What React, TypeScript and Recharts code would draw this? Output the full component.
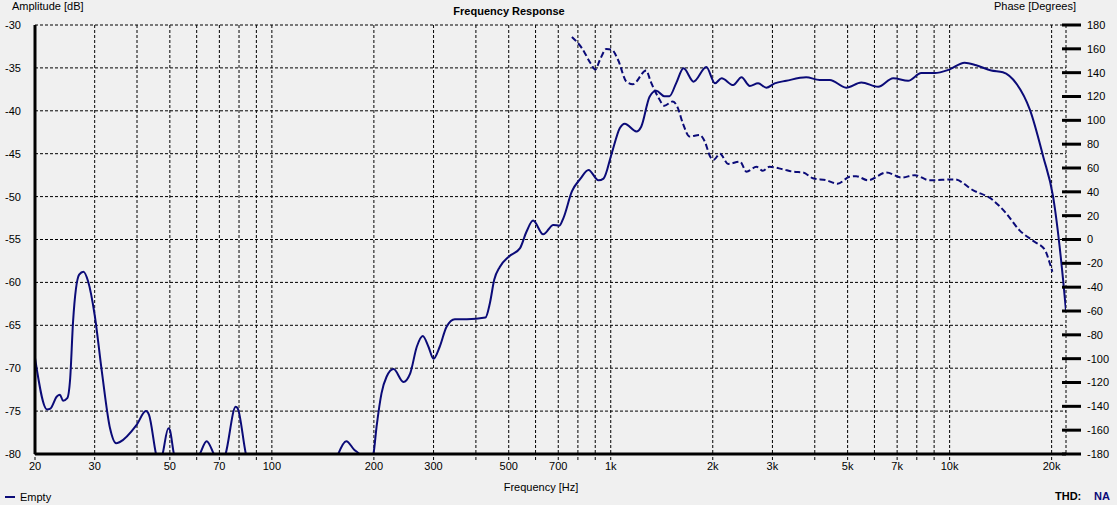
import React from "react";
import { LineChart, Line, XAxis, YAxis, CartesianGrid } from "recharts";

// amplitude (solid), frequency in Hz / level in dB
const ampFreq = [
  20, 21.7, 22.2, 23.2, 23.7, 24.2, 24.9, 25.4, 25.9, 27, 27.8, 28.7, 30, 31.5, 33.3, 34.7, 35.6,
  39.9, 42.5, 43.4, 45.5, 46.5, 47.6, 49.5, 50, 51.4, 56, 61.3, 64.2, 67.4, 70, 73, 78.2, 79.3,
  83.8, 88, 120, 150, 157, 165.8, 175, 181, 190, 199.3, 203.7, 210.7, 218, 228.6, 244.4, 256,
  267.7, 278.8, 289.8, 300, 312.8, 327.5, 346.8, 376.4, 426.8, 440, 453, 470.5, 500, 540, 564,
  590, 632, 677, 705, 725, 768, 814, 860, 920, 952, 1006, 1064, 1100, 1190, 1230, 1302, 1362,
  1440, 1490, 1559, 1640, 1756, 1914, 2030, 2124, 2298, 2432, 2572, 2721, 2878, 3046, 3296,
  3772, 4136, 4430, 4952, 5490, 6154, 6812, 7542, 8250, 9030, 9962, 11070, 11980, 13270, 14360,
  15720, 17260, 18890, 20200, 21620, 22050,
];
const ampDb = [
  -68.8, -74.8, -74.7, -73.3, -73.1, -73.8, -73.5, -71.2, -64.6, -59.1, -58.75, -59.9, -63.8,
  -70.4, -77, -78.75, -78.6, -76.6, -75, -75.45, -80, -81.5, -80, -77, -77.2, -80, -83, -80,
  -78.5, -80, -81.5, -80, -74.5, -74.7, -80, -83, -87, -82.5, -80, -78.5, -79.5, -80, -81.5, -80,
  -76.8, -72.9, -71, -70.1, -71.6, -70.6, -67.5, -66.25, -67.5, -68.9, -67.5, -65.2, -64.3,
  -64.3, -64.1, -62.4, -59.7, -58.2, -57, -56, -54.1, -52.8, -54.4, -53.3, -53.4, -52.5, -49.4,
  -47.9, -46.9, -48.1, -47.9, -45, -42, -41.5, -42.4, -41.85, -38.35, -37.65, -38.3, -38.3,
  -36.8, -35.05, -36.6, -34.9, -36.8, -36.2, -37, -36.1, -37.1, -36.8, -37.3, -36.8, -36.5,
  -36.1, -36.4, -36.4, -37.3, -36.7, -37.2, -36.2, -36.5, -35.6, -35.6, -35.2, -34.4, -34.7,
  -35.3, -35.5, -36.8, -39.9, -45.35, -50, -59.7, -63.3,
];

// phase (dashed), degrees
const phaseFreq = [
  768, 822, 872, 900, 928, 970, 1006, 1052, 1112, 1162, 1272, 1312, 1378, 1440, 1524, 1577,
  1632, 1710, 1830, 1894, 1966, 2012, 2100, 2220, 2408, 2514, 2692, 2810, 2940, 3214, 3452,
  3698, 3950, 4330, 4672, 5066, 5300, 5742, 6512, 7212, 7892, 8720, 10350, 11710, 13410, 14680,
  16060, 17800, 19100, 19750, 20100,
];
const phaseDeg = [
  170, 160.6, 147.9, 142.6, 150.4, 159.9, 159.4, 150.4, 132.5, 130.3, 141.8, 132.5, 119.9,
  112.3, 115.9, 110.5, 97.5, 86.4, 87.8, 82.3, 69.5, 66.9, 72, 63.4, 65.3, 56.9, 61, 57.6, 61,
  59, 56.9, 56.2, 51.4, 49.7, 46.8, 52.6, 53.1, 49.7, 56.2, 52, 54, 49.7, 50.4, 41.5, 33.1, 22,
  7.9, -1.9, -8.6, -19.9, -27,
];

const freqTicks = [
  20, 30, 40, 50, 60, 70, 80, 90, 100, 200, 300, 400, 500, 600, 700, 800, 900,
  1000, 2000, 3000, 4000, 5000, 6000, 7000, 8000, 9000, 10000, 20000,
];
const freqLabels: Record<number, string> = {
  20: "20", 30: "30", 50: "50", 70: "70", 100: "100", 200: "200", 300: "300", 500: "500",
  700: "700", 1000: "1k", 2000: "2k", 3000: "3k", 5000: "5k", 7000: "7k", 10000: "10k",
  20000: "20k",
};
const dbTicks = [-30, -35, -40, -45, -50, -55, -60, -65, -70, -75, -80];
const degTicks = [180, 160, 140, 120, 100, 80, 60, 40, 20, 0, -20, -40, -60, -80, -100, -120, -140, -160, -180];

const ampData = ampFreq.map((f, i) => ({ f, v: ampDb[i] }));
const phaseData = phaseFreq.map((f, i) => ({ f, v: phaseDeg[i] }));

const FONT = '"Liberation Sans", Arial, sans-serif';
const NAVY = "#0b0b78";

const PhaseTick = ({ x, y, payload }: any) => (
  <g>
    <line x1={x - 4} x2={x + 15} y1={y} y2={y} stroke="#000" strokeWidth={3} />
    <text x={x + 21} y={y} dy="0.36em" fontSize={11} fontFamily={FONT} fill="#000" textAnchor="start">
      {payload.value}
    </text>
  </g>
);

const label = (top: number, left: number, extra: React.CSSProperties = {}): React.CSSProperties => ({
  position: "absolute",
  top,
  left,
  fontSize: 11,
  lineHeight: "13px",
  fontFamily: FONT,
  color: "#000",
  whiteSpace: "nowrap",
  ...extra,
});

export default function App() {
  return (
    <div style={{ position: "absolute", left: 0, top: 0, width: 1117, height: 505, background: "#f0f0f0", overflow: "hidden" }}>
      <LineChart width={1117} height={505} margin={{ top: 25, right: 0, bottom: 0, left: 0 }}>
        <CartesianGrid yAxisId="amp" stroke="#000" strokeDasharray="3 2" strokeWidth={1} />
        <XAxis
          dataKey="f"
          type="number"
          scale="log"
          domain={[20, 22050]}
          allowDataOverflow
          ticks={freqTicks}
          interval={0}
          height={51}
          tickFormatter={(v: number) => freqLabels[v] ?? ""}
          tick={{ fontSize: 11, fontFamily: FONT, fill: "#000" }}
          tickSize={6}
          tickMargin={2}
          tickLine={{ stroke: "#000", strokeDasharray: "3 2" }}
          axisLine={{ stroke: "#000", strokeWidth: 3 }}
        />
        <YAxis
          yAxisId="amp"
          orientation="left"
          width={35}
          domain={[-80, -30]}
          allowDataOverflow
          ticks={dbTicks}
          interval={0}
          tickLine={false}
          tickSize={0}
          tickMargin={14}
          tick={{ fontSize: 11, fontFamily: FONT, fill: "#000" }}
          axisLine={{ stroke: "#000", strokeWidth: 3 }}
        />
        <YAxis
          yAxisId="phase"
          orientation="right"
          width={51}
          domain={[-180, 180]}
          allowDataOverflow
          ticks={degTicks}
          interval={0}
          tickLine={false}
          tickSize={0}
          tickMargin={0}
          axisLine={false}
          tick={<PhaseTick />}
        />
        <Line
          yAxisId="amp"
          data={ampData}
          dataKey="v"
          type="monotone"
          stroke={NAVY}
          strokeWidth={2}
          dot={false}
          isAnimationActive={false}
        />
        <Line
          yAxisId="phase"
          data={phaseData}
          dataKey="v"
          type="monotone"
          stroke={NAVY}
          strokeWidth={2}
          strokeDasharray="6 3"
          dot={false}
          isAnimationActive={false}
        />
      </LineChart>
      <div style={label(0, 12)}>Amplitude [dB]</div>
      <div style={label(0, 994)}>Phase [Degrees]</div>
      <div style={label(5, 509, { fontWeight: "bold", transform: "translateX(-50%)" })}>Frequency Response</div>
      <div style={label(481, 541, { transform: "translateX(-50%)" })}>Frequency [Hz]</div>
      <div style={{ position: "absolute", left: 5, top: 496, width: 10, height: 2, background: NAVY }} />
      <div style={label(491, 20)}>Empty</div>
      <div style={label(490, 1055, { fontWeight: "bold" })}>THD:</div>
      <div style={label(490, 1094, { fontWeight: "bold", color: NAVY })}>NA</div>
    </div>
  );
}
